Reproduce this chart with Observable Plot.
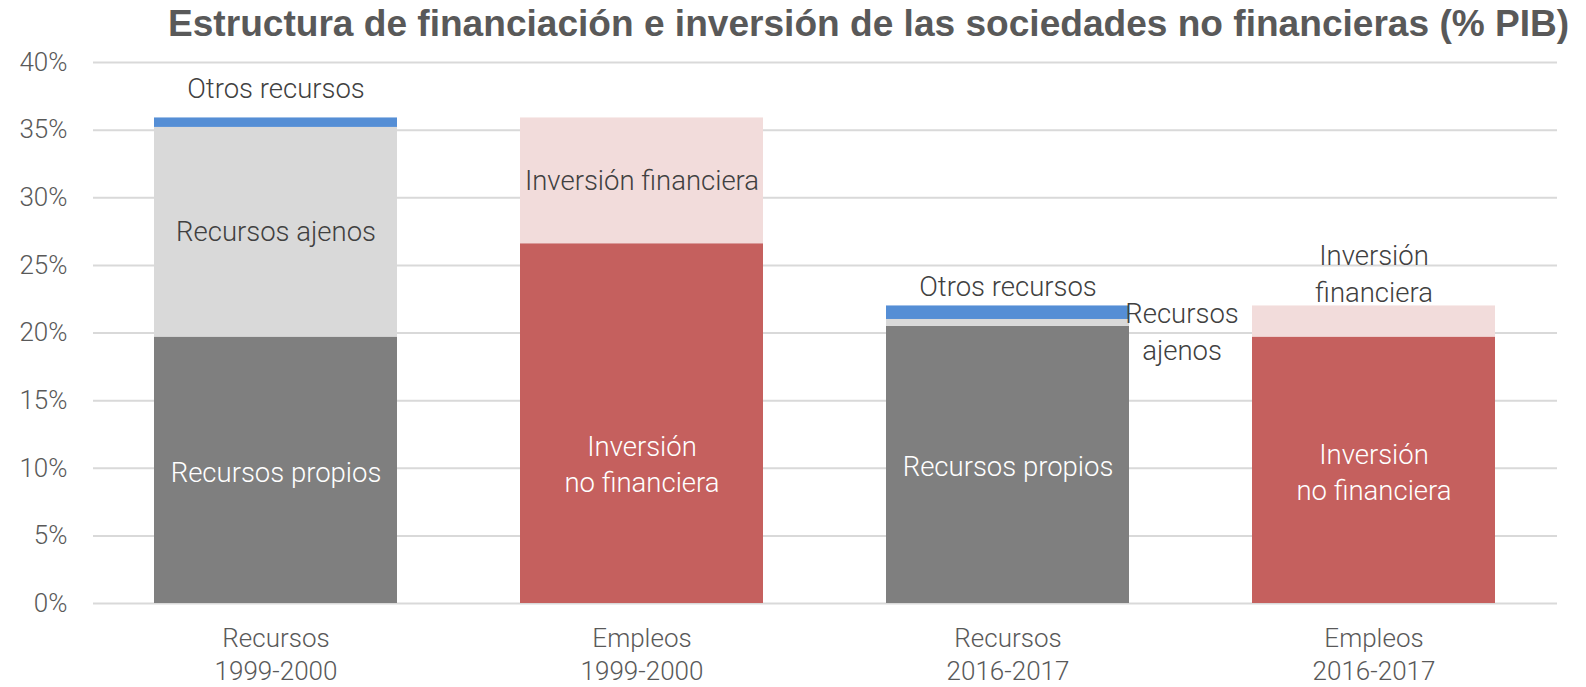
<!DOCTYPE html>
<html>
<head>
<meta charset="utf-8">
<script src="https://cdn.jsdelivr.net/npm/d3@7"></script>
<script src="https://cdn.jsdelivr.net/npm/@observablehq/plot@0.6"></script>
<style>
  html, body { margin: 0; padding: 0; background: #fff; }
  #title {
    height: 44px; line-height: 46px; white-space: nowrap;
    font-family: "Liberation Sans", Arial, sans-serif; font-weight: bold;
    font-size: 37.1px; color: #595959; padding-left: 168px;
  }
  #chart svg { font-family: Roboto, "Open Sans", sans-serif; font-weight: 300; }
</style>
</head>
<body>
<div id="title">Estructura de financiación e inversión de las sociedades no financieras (% PIB)</div>
<div id="chart"></div>
<script>
// ---- data ----
const categories = ["Recursos\n1999-2000", "Empleos\n1999-2000", "Recursos\n2016-2017", "Empleos\n2016-2017"];
const recursosCats = ["Recursos\n1999-2000", "Recursos\n2016-2017"];
const empleosCats = ["Empleos\n1999-2000", "Empleos\n2016-2017"];
const recursosPropios = [19.7, 20.5];
const recursosAjenos = [15.5, 0.5];
const otrosRecursos = [0.7, 1.0];
const inversionNoFin = [26.6, 19.7];
const inversionFin = [9.3, 2.3];
const seriesNames = ["Recursos propios", "Recursos ajenos", "Otros recursos", "Inversión no financiera", "Inversión financiera"];
const seriesColors = ["#7f7f7f", "#d9d9d9", "#558ed5", "#c5605e", "#f2dcdb"];
const yTicks = [0, 5, 10, 15, 20, 25, 30, 35, 40];

// long table for stacking
const rows = [];
recursosCats.forEach((c, i) => {
  rows.push({cat: c, series: "Recursos propios", value: recursosPropios[i]});
  rows.push({cat: c, series: "Recursos ajenos", value: recursosAjenos[i]});
  rows.push({cat: c, series: "Otros recursos", value: otrosRecursos[i]});
});
empleosCats.forEach((c, i) => {
  rows.push({cat: c, series: "Inversión no financiera", value: inversionNoFin[i]});
  rows.push({cat: c, series: "Inversión financiera", value: inversionFin[i]});
});

// label anchors derived from the data
const mid = (a, b) => a + b / 2;
const whiteLabels = [
  {cat: recursosCats[0], y: recursosPropios[0] / 2, text: "Recursos propios"},
  {cat: recursosCats[1], y: recursosPropios[1] / 2, text: "Recursos propios"},
  {cat: empleosCats[1], y: inversionNoFin[1] / 2, text: "Inversión\nno financiera"}
];
const whiteLabelShifted = [
  {cat: empleosCats[0], y: inversionNoFin[0] / 2, text: "Inversión\nno financiera"}
];
const darkInLabels = [
  {cat: recursosCats[0], y: mid(recursosPropios[0], recursosAjenos[0]), text: "Recursos ajenos"},
  {cat: empleosCats[0], y: mid(inversionNoFin[0], inversionFin[0]), text: "Inversión financiera"}
];
const top1 = recursosPropios[0] + recursosAjenos[0] + otrosRecursos[0];
const top3 = recursosPropios[1] + recursosAjenos[1] + otrosRecursos[1];
const top4 = inversionNoFin[1] + inversionFin[1];

const font = 27.5;
const chart = Plot.plot({
  width: 1586,
  height: 643,
  marginLeft: 93,
  marginRight: 29,
  marginTop: 18,
  marginBottom: 84,
  style: {fontSize: "24px", color: "#595959", background: "#fff"},
  x: {domain: categories, paddingInner: 0.336, paddingOuter: 0.168, label: null},
  y: {domain: [0, 40], label: null},
  color: {domain: seriesNames, range: seriesColors},
  marks: [
    Plot.gridY(yTicks, {stroke: "#d9d9d9", strokeOpacity: 1, strokeWidth: 2}),
    Plot.axisY({ticks: yTicks, tickFormat: d => d + "%", tickSize: 0, tickPadding: 26, fontSize: 26, label: null, fill: "#595959"}),
    Plot.axisX({tickSize: 0, tickPadding: 20, fontSize: 26, lineHeight: 1.28, label: null, fill: "#595959"}),
    Plot.barY(rows, {x: "cat", y: "value", fill: "series", order: seriesNames}),
    Plot.text(whiteLabels, {x: "cat", y: "y", text: "text", fill: "white", fontSize: font, lineHeight: 1.3}),
    Plot.text(whiteLabelShifted, {x: "cat", y: "y", text: "text", fill: "white", fontSize: font, lineHeight: 1.3, dy: 39}),
    Plot.text(darkInLabels, {x: "cat", y: "y", text: "text", fill: "#404040", fontSize: font}),
    Plot.text([{cat: recursosCats[0], y: top1}], {x: "cat", y: "y", text: () => "Otros recursos", fill: "#404040", fontSize: font, dy: -29}),
    Plot.text([{cat: recursosCats[1], y: top3}], {x: "cat", y: "y", text: () => "Otros recursos", fill: "#404040", fontSize: font, dy: -19}),
    Plot.text([{cat: empleosCats[1], y: top4}], {x: "cat", y: "y", text: () => "Inversión\nfinanciera", fill: "#404040", fontSize: font, lineHeight: 1.35, dy: -34}),
    Plot.text([{cat: recursosCats[1], y: mid(recursosPropios[1], recursosAjenos[1])}], {x: "cat", y: "y", text: () => "Recursos\najenos", fill: "#404040", fontSize: font, lineHeight: 1.35, dx: 174, dy: 7})
  ]
});
document.getElementById("chart").appendChild(chart);
</script>
</body>
</html>
